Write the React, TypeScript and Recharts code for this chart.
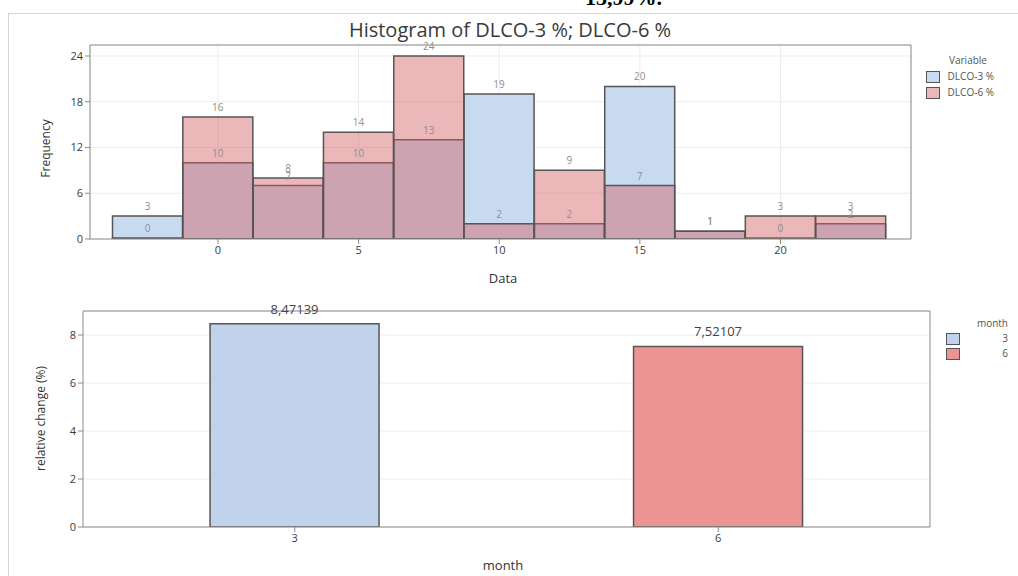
import React from "react";
import {
  BarChart,
  Bar,
  XAxis,
  YAxis,
  CartesianGrid,
  LabelList,
  Cell,
} from "recharts";

// histogram bins (centres), counts per variable
const binCenters = [-2.5, 0, 2.5, 5, 7.5, 10, 12.5, 15, 17.5, 20, 22.5];
const dlco3 = [3, 10, 7, 10, 13, 19, 2, 20, 1, 0, 2];
const dlco6 = [0, 16, 8, 14, 24, 2, 9, 7, 1, 3, 3];
const histXTicks = [0, 5, 10, 15, 20];
const histYTicks = [0, 6, 12, 18, 24];

// relative change by month
const months = ["3", "6"];
const relativeChange = [8.47139, 7.52107];
const changeYTicks = [0, 2, 4, 6, 8];

const FONT = "'Open Sans', 'Noto Sans', sans-serif";
const BLUE = "#c8daf0";
const RED_OVER = "rgba(211, 95, 100, 0.45)";
const BAR_BLUE = "#c0d2ec";
const BAR_RED = "#ec9494";
const EDGE = "#555";
const AXIS = "#8c8c8c";
const GRID = "#ececec";

// visible x range of the histogram plot (data units) and its width in px
const histDomain: [number, number] = [-4.55, 24.64];
const binWidth = 2.5;
const histPlotWidth = 821;

const histData = binCenters.map((c, i) => ({
  bin: c,
  dlco3: dlco3[i],
  dlco6: dlco6[i],
}));

const changeData = months.map((m, i) => ({ month: m, change: relativeChange[i] }));

const pxPerUnit = histPlotWidth / (histDomain[1] - histDomain[0]);
const binPad = {
  left: (binCenters[0] - binWidth / 2 - histDomain[0]) * pxPerUnit,
  right: (histDomain[1] - (binCenters[binCenters.length - 1] + binWidth / 2)) * pxPerUnit,
};

const tickStyle = { fontSize: 11, fill: "#3a3a3a", fontFamily: FONT };

const Swatch = ({ color }: { color: string }) => (
  <span
    style={{
      display: "inline-block",
      width: 12,
      height: 10,
      background: color,
      border: "1px solid #555",
      verticalAlign: "middle",
    }}
  />
);

const abs = (left: number, top: number): React.CSSProperties => ({
  position: "absolute",
  left,
  top,
  fontFamily: FONT,
  color: "#333",
  whiteSpace: "nowrap",
});

export default function App() {
  return (
    <div
      style={{
        position: "absolute",
        left: 0,
        top: 0,
        width: 1018,
        height: 576,
        background: "#fff",
        overflow: "hidden",
      }}
    >
      <div
        style={{
          position: "absolute",
          left: 585,
          top: -15,
          fontFamily: "'Liberation Serif', serif",
          fontWeight: "bold",
          fontSize: 22,
          color: "#000",
        }}
      >
        13,99%.
      </div>
      <div
        style={{
          position: "absolute",
          left: 8,
          top: 13,
          width: 1030,
          height: 600,
          borderLeft: "1px solid #d6d6d6",
          borderTop: "1px solid #d6d6d6",
        }}
      />

      {/* histogram */}
      <div style={{ position: "absolute", left: 0, top: 0 }}>
        <BarChart
          width={1018}
          height={290}
          data={histData}
          margin={{ top: 44, right: 106, bottom: 21, left: 50 }}
          barCategoryGap={0}
          barGap={0}
        >
          <CartesianGrid stroke={GRID} xAxisId="bins" yAxisId="freq" />
          <XAxis
            xAxisId="bins"
            dataKey="bin"
            type="category"
            padding={binPad}
            ticks={histXTicks}
            interval={0}
            tick={tickStyle}
            tickSize={5}
            stroke={AXIS}
            height={30}
          />
          <XAxis xAxisId="bins6" dataKey="bin" type="category" hide padding={binPad} />
          <XAxis
            xAxisId="top"
            orientation="top"
            dataKey="bin"
            type="category"
            tick={false}
            tickLine={false}
            stroke={AXIS}
            height={1}
          />
          <YAxis
            yAxisId="freq"
            domain={[0, 25.44]}
            allowDataOverflow
            ticks={histYTicks}
            tick={tickStyle}
            tickSize={5}
            stroke={AXIS}
            width={40}
          />
          <YAxis
            yAxisId="right"
            orientation="right"
            domain={[0, 1]}
            tick={false}
            tickLine={false}
            stroke={AXIS}
            width={1}
          />
          <Bar
            xAxisId="bins"
            yAxisId="freq"
            dataKey="dlco3"
            fill={BLUE}
            stroke={EDGE}
            strokeWidth={1.5}
            minPointSize={1}
            isAnimationActive={false}
          >
            <LabelList dataKey="dlco3" position="top" offset={6} fill="#8f8f8f" fontSize={10} fontFamily={FONT} />
          </Bar>
          <Bar
            xAxisId="bins6"
            yAxisId="freq"
            dataKey="dlco6"
            fill={RED_OVER}
            stroke={EDGE}
            strokeWidth={1.5}
            minPointSize={1}
            isAnimationActive={false}
          >
            <LabelList dataKey="dlco6" position="top" offset={6} fill="#8f8f8f" fontSize={10} fontFamily={FONT} />
          </Bar>
        </BarChart>
      </div>

      <div style={{ ...abs(0, 16), width: 1018, textAlign: "center", fontSize: 20, color: "#3a3a3a" }}>
        <span style={{ marginLeft: 2 }}>Histogram of DLCO-3 %; DLCO-6 %</span>
      </div>
      <div style={{ ...abs(453, 269), width: 100, textAlign: "center", fontSize: 13 }}>Data</div>
      <div
        style={{
          ...abs(-5, 140),
          width: 100,
          textAlign: "center",
          fontSize: 12,
          transform: "rotate(-90deg)",
          transformOrigin: "50% 50%",
        }}
      >
        Frequency
      </div>
      <div style={{ ...abs(926, 52), fontSize: 10, color: "#555", lineHeight: "16px" }}>
        <div style={{ paddingLeft: 23 }}>Variable</div>
        <div>
          <Swatch color={BLUE} /> <span style={{ marginLeft: 5 }}>DLCO-3 %</span>
        </div>
        <div>
          <Swatch color="#ebb7b9" /> <span style={{ marginLeft: 5 }}>DLCO-6 %</span>
        </div>
      </div>

      {/* relative change */}
      <div style={{ position: "absolute", left: 0, top: 290 }}>
        <BarChart
          width={1018}
          height={286}
          data={changeData}
          margin={{ top: 20, right: 87, bottom: 19, left: 43 }}
          barCategoryGap="30%"
        >
          <CartesianGrid stroke={GRID} vertical={false} xAxisId="m" yAxisId="v" />
          <XAxis xAxisId="m" dataKey="month" tick={tickStyle} tickSize={5} stroke={AXIS} height={30} />
          <XAxis
            xAxisId="top"
            dataKey="month"
            orientation="top"
            tick={false}
            tickLine={false}
            stroke={AXIS}
            height={1}
          />
          <YAxis
            yAxisId="v"
            domain={[0, 9]}
            allowDataOverflow
            ticks={changeYTicks}
            tick={tickStyle}
            tickSize={5}
            stroke={AXIS}
            width={40}
          />
          <YAxis
            yAxisId="right"
            orientation="right"
            domain={[0, 1]}
            tick={false}
            tickLine={false}
            stroke={AXIS}
            width={1}
          />
          <Bar
            xAxisId="m"
            yAxisId="v"
            dataKey="change"
            stroke={EDGE}
            strokeWidth={1.5}
            isAnimationActive={false}
          >
            {changeData.map((d, i) => (
              <Cell key={d.month} fill={i === 0 ? BAR_BLUE : BAR_RED} />
            ))}
            <LabelList
              dataKey="change"
              position="top"
              offset={10}
              fill="#444"
              fontSize={13}
              fontFamily={FONT}
              formatter={(v: any) => String(v).replace(".", ",")}
            />
          </Bar>
        </BarChart>
      </div>

      <div style={{ ...abs(453, 556), width: 100, textAlign: "center", fontSize: 13 }}>month</div>
      <div
        style={{
          ...abs(-20, 410),
          width: 120,
          textAlign: "center",
          fontSize: 12,
          transform: "rotate(-90deg)",
          transformOrigin: "50% 50%",
        }}
      >
        relative change (%)
      </div>
      <div style={{ ...abs(946, 316), width: 62, fontSize: 10, color: "#555", lineHeight: "15px" }}>
        <div style={{ textAlign: "right" }}>month</div>
        <div style={{ display: "flex", justifyContent: "space-between", alignItems: "center" }}>
          <Swatch color={BAR_BLUE} />
          <span>3</span>
        </div>
        <div style={{ display: "flex", justifyContent: "space-between", alignItems: "center" }}>
          <Swatch color={BAR_RED} />
          <span>6</span>
        </div>
      </div>
    </div>
  );
}
